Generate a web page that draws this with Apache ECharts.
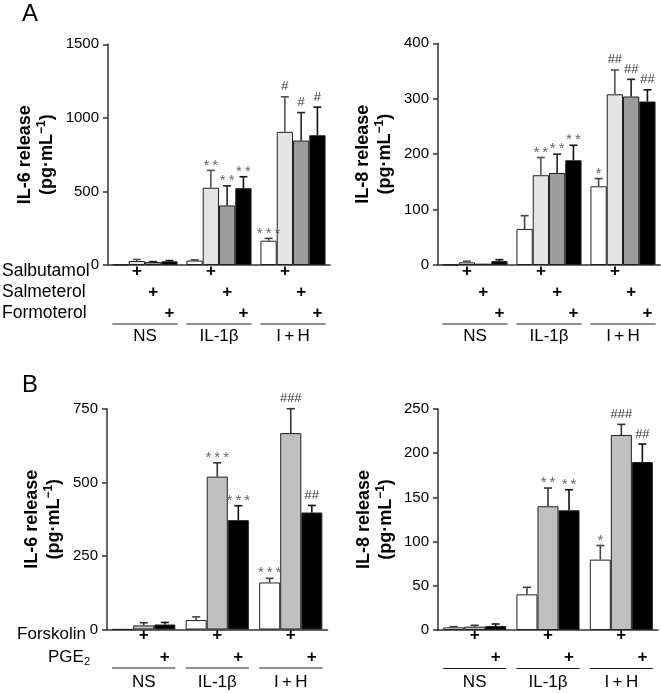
<!DOCTYPE html>
<html><head><meta charset="utf-8">
<script src="https://cdn.jsdelivr.net/npm/echarts@6/dist/echarts.min.js"></script>
<style>html,body{margin:0;padding:0;background:#fff}#c{width:661px;height:693px}</style>
</head><body><div id="c"></div>
<script>
// ---------- data ----------
const groups = ['NS', 'IL-1\u03b2', 'I\u2009+\u2009H'];
const aTreatments = ['Salbutamol', 'Salmeterol', 'Formoterol'];
const bTreatments = ['Forskolin', 'PGE2'];

// Panel A: bars per group = [control, salbutamol, salmeterol, formoterol]
const aIL6Means = [[2, 30, 165], [27, 525, 905], [20, 405, 846], [25, 522, 882]];
const aIL6Sem   = [[0, 5, 16], [11, 118, 238], [3, 133, 190], [5, 78, 191]];
const aIL6Sig   = [['', '', '***'], ['', '**', '#'], ['', '**', '#'], ['', '**', '#']];

const aIL8Means = [[0.5, 65, 142], [4.8, 162, 308], [2.4, 166, 304], [7, 189, 295]];
const aIL8Sem   = [[0, 24, 14], [2, 32, 44], [0, 34, 31], [2.6, 27, 21]];
const aIL8Sig   = [['', '', '*'], ['', '**', '##'], ['', '**', '##'], ['', '**', '##']];

// Panel B: bars per group = [control, forskolin, PGE2]
const bIL6Means = [[0.5, 32, 160], [14, 520, 668], [17, 372, 398]];
const bIL6Sem   = [[0, 11, 14], [9, 47, 83], [7, 49, 24]];
const bIL6Sig   = [['', '', '***'], ['', '***', '###'], ['', '***', '##']];

const bIL8Means = [[3, 40.3, 79.6], [3.8, 140, 220.6], [4.5, 135.4, 190]];
const bIL8Sem   = [[0.8, 8, 16], [1.5, 20.6, 12], [2.3, 23.3, 20.4]];
const bIL8Sig   = [['', '', '*'], ['', '**', '###'], ['', '**', '##']];

const yTicksA6 = {max: 1500, interval: 500};
const yTicksA8 = {max: 400, interval: 100};
const yTicksB6 = {max: 750, interval: 250};
const yTicksB8 = {max: 250, interval: 50};

// ---------- styling / layout ----------
const FONT = '"Liberation Sans", Arial, Helvetica, sans-serif';
const aColors = ['#ffffff', '#e4e4e4', '#9c9c9c', '#000000'];
const bColors = ['#ffffff', '#c0c0c0', '#000000'];
const aErrColors = ['#444', '#555', '#222', '#111'];
const bErrColors = ['#444', '#333', '#111'];

const panels = [
  {means: aIL6Means, sem: aIL6Sem, sig: aIL6Sig, ticks: yTicksA6, label: 'IL-6', colors: aColors, errColors: aErrColors,
   grid: {left: 108, top: 44.3, width: 222, height: 220.7}, gap: 0.12, rows: [6, 27, 48], line: 59, labelMargin: 63, nameGap: 50},
  {means: aIL8Means, sem: aIL8Sem, sig: aIL8Sig, ticks: yTicksA8, label: 'IL-8', colors: aColors, errColors: aErrColors,
   grid: {left: 438, top: 43.3, width: 222, height: 221.7}, gap: 0.12, rows: [6, 27, 48], line: 59, labelMargin: 63, nameGap: 42},
  {means: bIL6Means, sem: bIL6Sem, sig: bIL6Sig, ticks: yTicksB6, label: 'IL-6', colors: bColors, errColors: bErrColors,
   grid: {left: 107, top: 409, width: 220.5, height: 220.5}, gap: 0.14, rows: [5.5, 27.5], line: 38.5, labelMargin: 44, nameGap: 42},
  {means: bIL8Means, sem: bIL8Sem, sig: bIL8Sig, ticks: yTicksB8, label: 'IL-8', colors: bColors, errColors: bErrColors,
   grid: {left: 438, top: 409, width: 220, height: 221}, gap: 0.14, rows: [5.5, 27.5], line: 38.5, labelMargin: 44, nameGap: 41}
];

const grids = [], xAxes = [], yAxes = [], series = [];
const axisColor = '#333';

panels.forEach((p, pi) => {
  const n = p.means.length;
  grids.push(Object.assign({containLabel: false}, p.grid));
  xAxes.push({
    type: 'category', gridIndex: pi, data: groups,
    axisLine: {show: true, lineStyle: {color: axisColor, width: 1.5}},
    axisTick: {show: false},
    axisLabel: {fontFamily: FONT, fontSize: 17, color: '#000', margin: p.labelMargin}
  });
  yAxes.push({
    type: 'value', gridIndex: pi, min: 0, max: p.ticks.max, interval: p.ticks.interval,
    splitLine: {show: false},
    axisLine: {show: true, lineStyle: {color: axisColor, width: 1.5}},
    axisTick: {show: true, length: 5, lineStyle: {color: axisColor, width: 1.5}},
    axisLabel: {fontFamily: FONT, fontSize: 15, color: '#000', margin: 9, formatter: v => String(v)},
    name: '{t|' + p.label + ' release}\n{t|(pg\u00b7mL}{sup|\u22121}{t|)}',
    nameLocation: 'middle', nameGap: p.nameGap,
    nameTextStyle: {
      fontFamily: FONT, fontWeight: 'bold', fontSize: 18, color: '#000', lineHeight: 22,
      rich: {
        t: {fontFamily: FONT, fontWeight: 'bold', fontSize: 18, color: '#000', lineHeight: 22},
        sup: {fontFamily: FONT, fontWeight: 'bold', fontSize: 12, color: '#000', lineHeight: 12, verticalAlign: 'top'}
      }
    }
  });
  // bars
  p.means.forEach((vals, s) => {
    series.push({
      type: 'bar', xAxisIndex: pi, yAxisIndex: pi, data: vals,
      barGap: '0%', barCategoryGap: (p.gap * 100) + '%',
      itemStyle: {color: p.colors[s], borderColor: '#222', borderWidth: 1},
      animation: false, z: 2
    });
  });
  // error bars + significance
  p.means.forEach((vals, s) => {
    const sem = p.sem[s], sig = p.sig[s], ec = p.errColors[s];
    series.push({
      type: 'custom', xAxisIndex: pi, yAxisIndex: pi, clip: false, z: 3, animation: false,
      data: vals.map((m, i) => [i, m, m + sem[i]]),
      renderItem: function (params, api) {
        const i = api.value(0), mean = api.value(1), hi = api.value(2);
        const band = api.size([1, 0])[0];
        const bw = band * (1 - p.gap) / n;
        const c = api.coord([i, mean]);
        const t = api.coord([i, hi]);
        const x = c[0] - bw * n / 2 + (s + 0.5) * bw;
        const children = [];
        if (hi > mean) {
          children.push({type: 'line', shape: {x1: x, y1: c[1], x2: x, y2: t[1]}, style: {stroke: ec, lineWidth: 1.6}});
          children.push({type: 'line', shape: {x1: x - 4, y1: t[1], x2: x + 4, y2: t[1]}, style: {stroke: ec, lineWidth: 1.6}});
        }
        const txt = sig[params.dataIndex];
        if (txt) {
          const isStar = txt[0] === '*';
          children.push({
            type: 'text',
            style: {
              text: isStar ? txt.split('').join('\u2009') : txt,
              x: x, y: t[1] - (isStar ? 5 : 10),
              align: 'center', verticalAlign: 'middle',
              fontFamily: FONT, fontSize: isStar ? 15 : 13, fill: isStar ? '#666' : '#333'
            }
          });
        }
        return {type: 'group', children: children};
      }
    });
  });
  // treatment "+" rows and group underline
  series.push({
    type: 'custom', xAxisIndex: pi, yAxisIndex: pi, clip: false, z: 3, animation: false,
    data: groups.map((g, i) => [i, 0]),
    renderItem: function (params, api) {
      const i = api.value(0);
      const base = api.coord([i, 0]);
      const band = api.size([1, 0])[0];
      const bw = band * (1 - p.gap) / n;
      const start = base[0] - bw * n / 2;
      const children = [];
      p.rows.forEach((dy, r) => {
        children.push({
          type: 'text',
          style: {text: '+', x: start + (r + 1.5) * bw, y: base[1] + dy, align: 'center', verticalAlign: 'middle',
                  fontFamily: FONT, fontSize: 17, fontWeight: 'bold', fill: '#000'}
        });
      });
      children.push({type: 'line', shape: {x1: start, y1: base[1] + p.line, x2: start + n * bw, y2: base[1] + p.line},
                     style: {stroke: '#222', lineWidth: 1.2}});
      return {type: 'group', children: children};
    }
  });
});

const graphics = [
  {type: 'text', x: 22, y: 2, style: {text: 'A', fontFamily: FONT, fontSize: 24, fill: '#000'}},
  {type: 'text', x: 22, y: 373, style: {text: 'B', fontFamily: FONT, fontSize: 24, fill: '#000'}}
];
[271, 292, 313].forEach((y, r) => {
  graphics.push({type: 'text', x: 2, y: y, style: {text: aTreatments[r], fontFamily: FONT, fontSize: 17.5, fill: '#000', verticalAlign: 'middle', align: 'left'}});
});
graphics.push({type: 'text', x: 86, y: 634, style: {text: bTreatments[0], fontFamily: FONT, fontSize: 17, fill: '#000', verticalAlign: 'middle', align: 'right'}});
graphics.push({type: 'text', x: 90, y: 657, style: {
  text: '{n|PGE}{s|2}', fontFamily: FONT, fontSize: 17, fill: '#000', verticalAlign: 'middle', align: 'right',
  rich: {n: {fontFamily: FONT, fontSize: 17, lineHeight: 20, fill: '#000'}, s: {fontFamily: FONT, fontSize: 11, lineHeight: 11, verticalAlign: 'bottom', fill: '#000'}}
}});

const chart = echarts.init(document.getElementById('c'), null, {renderer: 'canvas'});
chart.setOption({
  animation: false,
  backgroundColor: '#fff',
  grid: grids, xAxis: xAxes, yAxis: yAxes, series: series, graphic: graphics
});
</script></body></html>
